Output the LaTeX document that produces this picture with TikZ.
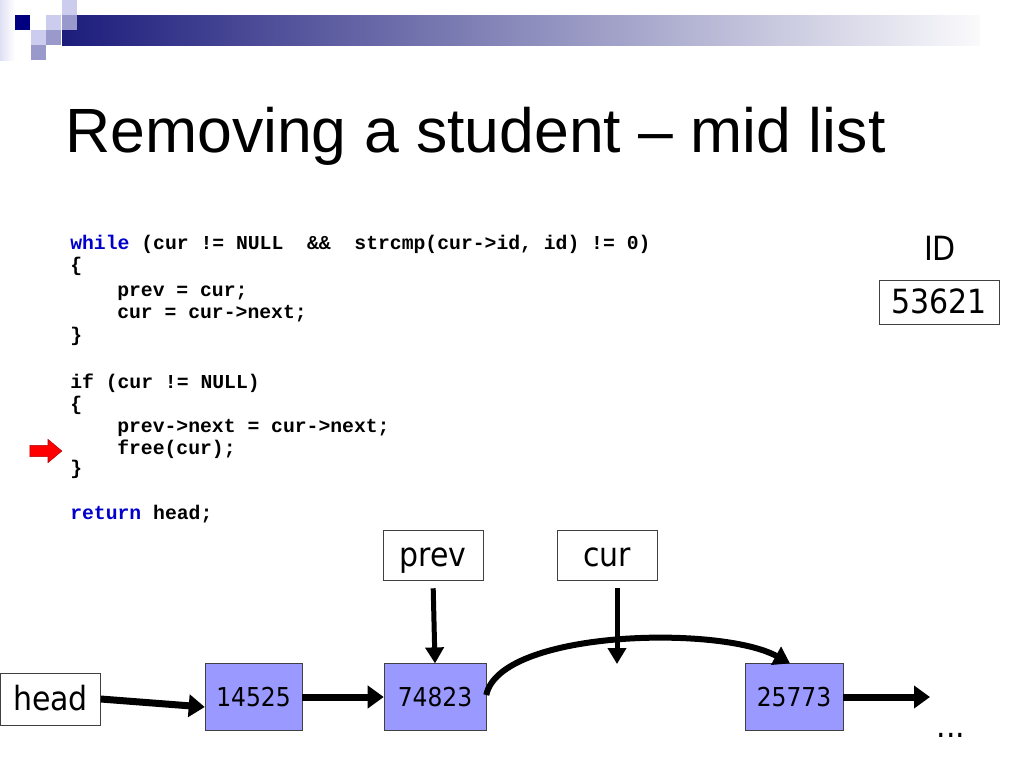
\documentclass[tikz,border=0pt]{standalone}
\usepackage{fontspec}
\setmainfont{Liberation Sans}
\newfontfamily\codefont{Liberation Mono}
\newfontfamily\labelfont{DejaVu Sans Condensed}
\usetikzlibrary{arrows.meta, shapes.arrows, calc}
\definecolor{navy}{HTML}{000080}
\definecolor{lightsq}{HTML}{CCCCEE}
\definecolor{midsq}{HTML}{9999CC}
\definecolor{barstart}{HTML}{1C1C7C}
\definecolor{barend}{HTML}{FAFAFC}
\definecolor{kwblue}{HTML}{0000CC}
\definecolor{nodefill}{HTML}{9999FF}
\definecolor{boxline}{HTML}{404040}
\newcommand{\kw}[1]{\textcolor{kwblue}{#1}}
\begin{document}
\begin{tikzpicture}[x=0.75pt, y=-0.75pt,
  codeline/.style={anchor=base west, inner sep=0pt, font=\codefont\bfseries\fontsize{14.8}{16}\selectfont},
  ptrbox/.style={rectangle, draw=boxline, fill=white, font=\labelfont\fontsize{25}{28}\selectfont, minimum width=75pt, minimum height=37.5pt, inner sep=0pt, text height=18pt, text depth=1pt},
  listnode/.style={rectangle, draw=boxline, fill=nodefill, font=\labelfont\fontsize{19.5}{22}\selectfont, minimum width=74pt, minimum height=50pt, inner sep=0pt, text height=14pt, text depth=0pt},
  fat/.style={line width=5.25pt, -{Triangle[length=12pt, width=16.5pt]}},
  thin/.style={line width=3.75pt, -{Triangle[length=12pt, width=13.5pt]}}]
  \useasboundingbox (0,0) rectangle (1024,768);
  % Header
  \shade[left color=lightsq!60, right color=white] (0,0) rectangle (15,60);
  \shade[left color=barstart, right color=barend] (62,15) rectangle (980,45);
  \fill[navy] (15,15) rectangle (30,30);
  \fill[lightsq] (62,0) rectangle (77,15);
  \fill[lightsq] (46,15) rectangle (61,30);
  \fill[midsq] (62,15) rectangle (77,30);
  \fill[lightsq] (31,30) rectangle (46,45);
  \fill[midsq] (46,30) rectangle (61,45);
  \fill[midsq] (31,45) rectangle (46,60);
  \node (title) [anchor=base west, inner sep=0pt, font=\fontsize{46.9}{50}\selectfont] at (65,152) {Removing a student -- mid list};
  % Code
  \node (l1) [codeline] at (70,249) {\kw{while} (cur != NULL\ \ \&\&\ \ strcmp(cur->id, id) != 0)};
  \node (l2) [codeline] at (70,271) {\{};
  \node (l3) [codeline] at (117,296) {prev = cur;};
  \node (l4) [codeline] at (117,318) {cur = cur->next;};
  \node (l5) [codeline] at (70,341) {\}};
  \node (l6) [codeline] at (70,388) {if (cur != NULL)};
  \node (l7) [codeline] at (70,410) {\{};
  \node (l8) [codeline] at (117,432) {prev->next = cur->next;};
  \node (l9) [codeline] at (117,454) {free(cur);};
  \node (l10) [codeline] at (70,474) {\}};
  \node (l11) [codeline] at (70,519) {\kw{return} head;};
  \node (marker) [single arrow, fill=red, draw=red!70!black, inner sep=4pt, minimum height=24pt,
    single arrow head extend=4.5pt, single arrow tip angle=80] at (42.5,451) {};
  % ID
  \node (idlabel) [font=\labelfont\fontsize{25}{28}\selectfont] at (940,248) {ID};
  \node (idval) [ptrbox, minimum width=90pt, minimum height=33pt] at (939,302) {53621};
  % Nodes
  \node (head) [ptrbox, minimum height=39pt] at (50.5,699) {head};
  \node (prev) [ptrbox] at (433,555) {prev};
  \node (cur) [ptrbox] at (607,555) {cur};
  \node (n14525) [listnode, minimum width=72.75pt] at (253.5,697) {14525};
  \node (n74823) [listnode, minimum width=76.5pt] at (435,697) {74823};
  \node (n25773) [listnode, minimum width=73.5pt] at (794,697) {25773};
  \node (dots) [anchor=base, font=\labelfont\fontsize{25}{28}\selectfont] at (951,737) {...};
  \coordinate (tail) at (930,697);
  \coordinate (curtip) at (617,664);
  % Arrow
  \draw[fat] (head.east) -- ($(n14525.west)+(0,10)$);
  \draw[fat] (n14525) -- (n74823);
  \draw[fat] (n25773) -- (tail);
  \draw[thin, shorten <=6pt] (prev.south) -- (n74823.north);
  \draw[thin, shorten <=6pt] ($(cur.south)+(10,0)$) -- (curtip);
  \draw[line width=4.5pt, -{Triangle[length=12pt, width=15pt]}] ($(n74823.east)+(0,-2)$) .. controls (500,630) and (720,625) .. ($(n25773.north)+(-4,0)$);
\end{tikzpicture}
\end{document}
